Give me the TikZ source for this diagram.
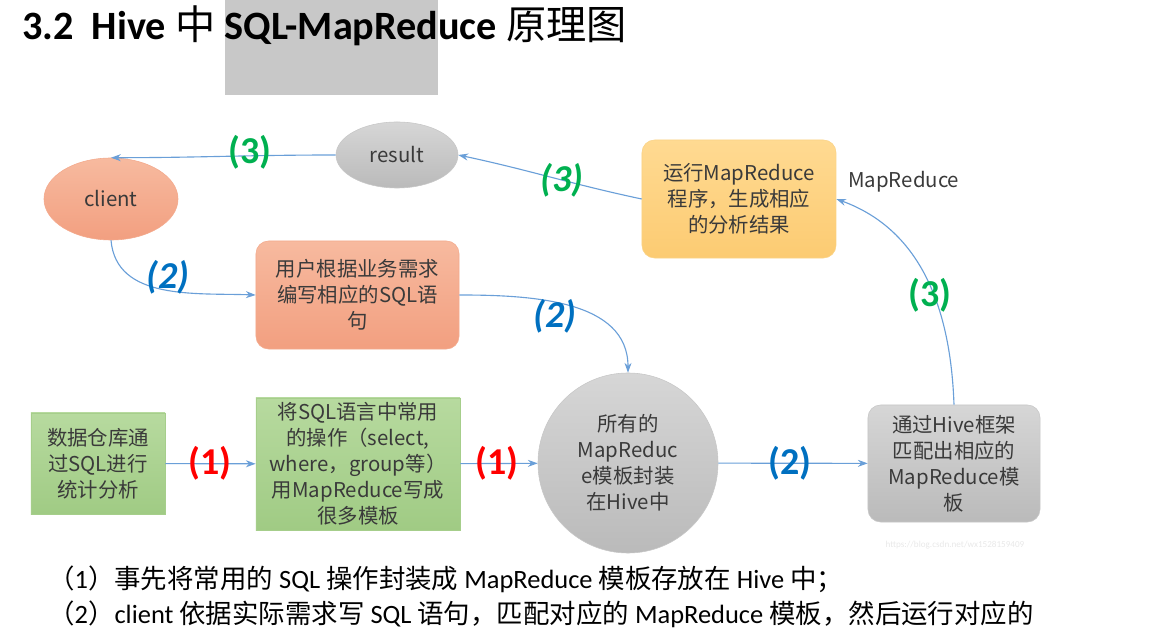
\documentclass[tikz,border=0pt]{standalone}
\usepackage{fontspec}
\setmainfont{Carlito}
\newfontfamily\cjk{Noto Sans CJK SC}
\usepackage{tikz}
\usetikzlibrary{positioning}
\usetikzlibrary{arrows.meta}
\usetikzlibrary{shapes.geometric}
\definecolor{linkblue}{HTML}{6A9FD8}
\definecolor{txtgray}{HTML}{3A3A3A}
\definecolor{titlegray}{HTML}{C8C8C8}
\definecolor{tagGreen}{HTML}{00B050}
\definecolor{tagBlue}{HTML}{0070C0}
\definecolor{tagRed}{HTML}{FF0000}
\definecolor{peachTop}{HTML}{F7BA9F}
\definecolor{peachBot}{HTML}{F29F80}
\definecolor{peachLine}{HTML}{F3A98C}
\definecolor{leafTop}{HTML}{B7DA9F}
\definecolor{leafBot}{HTML}{A0CB84}
\definecolor{leafLine}{HTML}{A6CE8B}
\definecolor{sunTop}{HTML}{FFDA92}
\definecolor{sunBot}{HTML}{FCCB72}
\definecolor{sunLine}{HTML}{FAD285}

\begin{document}
\begin{tikzpicture}[
    x=0.025cm, y=-0.025cm,
    txt/.style={font=\cjk\fontsize{14.5}{18.5}\selectfont, text=txtgray, align=center, inner sep=0pt},
    stepbox/.style={txt, rectangle, rounded corners=9pt},
    orangefill/.style={top color=peachTop, bottom color=peachBot, draw=peachLine},
    grayfill/.style={top color=black!16, bottom color=black!27, draw=black!22},
    yellowfill/.style={top color=sunTop, bottom color=sunBot, draw=sunLine},
    greenfill/.style={top color=leafTop, bottom color=leafBot, draw=leafLine},
    link/.style={draw=linkblue, line width=0.8pt, -{Stealth[length=7pt,width=5pt]}},
    tag/.style={font=\bfseries\fontsize{27}{27}\selectfont, inner sep=0pt},
    slanttag/.style={font=\bfseries\itshape\fontsize{27}{27}\selectfont, inner sep=0pt}
  ]
    \useasboundingbox (0,0) rectangle (1152,642);

    % Title
    \fill[titlegray] (225,0) rectangle (438,95);
    \node[anchor=base west, inner sep=0pt, font=\bfseries\fontsize{28.6}{28.6}\selectfont] (title) at (22,40)
      {3.2\hspace{0.45em}Hive {\cjk\mdseries 中} SQL-MapReduce {\cjk\mdseries 原理图}};

    % Top row
    \node[ellipse, orangefill, txt, minimum width=3.35cm, minimum height=2.05cm] (client) at (111,199) {client};
    \node[ellipse, grayfill, txt, minimum width=3.05cm, minimum height=1.65cm] (result) at (397,155) {result};
    \node[stepbox, yellowfill, minimum width=4.85cm, minimum height=2.95cm] (run) at (739,199)
      {运行MapReduce\\程序，生成相应\\的分析结果};
    \node[txt, anchor=west] (mrname) at (848,182) {MapReduce};

    % Middle
    \node[stepbox, orangefill, minimum width=5.075cm, minimum height=2.7cm] (write) at (357.5,295)
      {用户根据业务需求\\编写相应的SQL语\\句};

    % Bottom row
    \node[txt, rectangle, greenfill, minimum width=3.35cm, minimum height=2.525cm] (stat) at (98,463.5)
      {数据仓库通\\过SQL进行\\统计分析};
    \node[txt, rectangle, greenfill, minimum width=5.1cm, minimum height=3.3cm] (tmpl) at (358,464)
      {将SQL语言中常用\\的操作（select,\\where，group等）\\用MapReduce写成\\很多模板};
    \node[txt, circle, grayfill, minimum size=4.5cm] (hive) at (628,463)
      {所有的\\MapReduc\\e模板封装\\在Hive中};
    \node[stepbox, grayfill, minimum width=4.3cm, minimum height=2.925cm] (match) at (954,463.5)
      {通过Hive框架\\匹配出相应的\\MapReduce模\\板};

    % Connectors
    \draw[link] (stat) -- (tmpl);
    \draw[link] (tmpl) -- (hive);
    \draw[link] (hive) -- (match);
    \draw[link] (client.south) to[out=-85, in=178] (write.west);
    \draw[link] (write.east) to[out=0, in=90] (hive.north);
    \draw[link] (match.north) to[out=92, in=-20] (run.east);
    \draw[link] (run.west) to[out=168, in=-12] (result.east);
    \draw[link] (result.west) to[out=180, in=0] (client.north);

    % Step numbers
    \node[tag, text=tagGreen] (n3a) at (250,152) {(3)};
    \node[slanttag, text=tagGreen] (n3b) at (562,180) {(3)};
    \node[tag, text=tagGreen] (n3c) at (930,295) {(3)};
    \node[slanttag, text=tagBlue] (n2a) at (168,277) {(2)};
    \node[slanttag, text=tagBlue] (n2b) at (555,316) {(2)};
    \node[tag, text=tagRed] (n1a) at (210,463) {(1)};
    \node[tag, text=tagRed] (n1b) at (497,463) {(1)};
    \node[tag, text=tagBlue] (n2c) at (790,463) {(2)};

    \node[font=\fontsize{6.5}{6.5}\selectfont, text=black!9] (mark) at (955,545) {https://blog.csdn.net/wx1528159409};

    % Notes
    \node[anchor=base west, inner sep=0pt, font=\fontsize{18.8}{18.8}\selectfont] (note1) at (48,588)
      {{\cjk （}1{\cjk ）事先将常用的} SQL {\cjk 操作封装成} MapReduce {\cjk 模板存放在} Hive {\cjk 中；}};
    \node[anchor=base west, inner sep=0pt, font=\fontsize{18.8}{18.8}\selectfont] (note2) at (48,623)
      {{\cjk （}2{\cjk ）}client {\cjk 依据实际需求写} SQL {\cjk 语句，匹配对应的} MapReduce {\cjk 模板，然后运行对应的}};
  \end{tikzpicture}
\end{document}
